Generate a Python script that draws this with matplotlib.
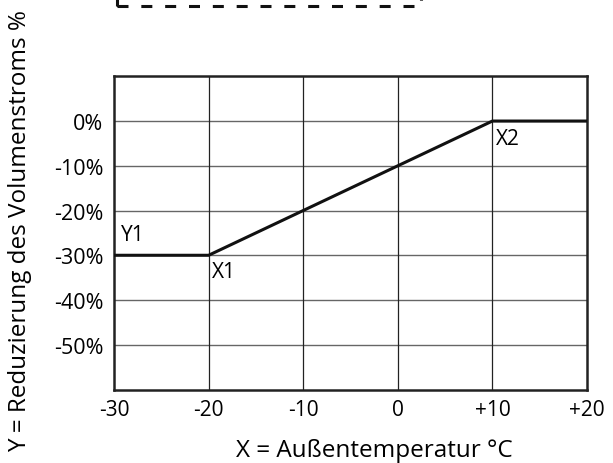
import matplotlib.pyplot as plt
from matplotlib.patches import Rectangle

plt.rcParams['font.family'] = ['Open Sans', 'DejaVu Sans']

x_pts = [-30, -20, 10, 20]
y_pts = [-30, -30, 0, 0]
x_ticks = [-30, -20, -10, 0, 10, 20]
x_labels = ['-30', '-20', '-10', '0', '+10', '+20']
y_ticks = [0, -10, -20, -30, -40, -50]
y_labels = ['0%', '-10%', '-20%', '-30%', '-40%', '-50%']

fig = plt.figure(figsize=(6.13, 4.64), dpi=100)
ax = fig.add_axes([0.186, 0.1584, 0.7716, 0.675])

ax.set_xlim(-30, 20)
ax.set_ylim(-60, 10)
ax.set_xticks(x_ticks)
ax.set_xticklabels(x_labels, fontsize=15)
ax.set_yticks(y_ticks)
ax.set_yticklabels(y_labels, fontsize=15.5)
ax.tick_params(axis='y', length=0, pad=7.5)
ax.tick_params(axis='x', length=0, pad=7)

for yv in [-50, -40, -30, -20, -10, 0]:
    ax.axhline(yv, color='#666666', lw=1.0, zorder=1)
for xv in [-20, -10, 0, 10]:
    ax.axvline(xv, color='#222222', lw=0.9, zorder=1)
for s in ax.spines.values():
    s.set_linewidth(1.8)
    s.set_color('#222222')

ax.plot(x_pts, y_pts, color='#111111', lw=2.2, zorder=3)

ax.text(-29.25, -26.5, 'Y1', fontsize=15, va='baseline', ha='left')
ax.text(-19.7, -34.9, 'X1', fontsize=15, va='baseline', ha='left')
ax.text(10.35, -5.1, 'X2', fontsize=15, va='baseline', ha='left')

fig.text(374 / 613, 1 - 457 / 464, 'X = Außentemperatur °C',
         fontsize=17.5, va='baseline', ha='center')
fig.text(0.032, 0.502, 'Y = Reduzierung des Volumenstroms %', rotation=90,
         fontsize=17.5, va='center', ha='center')

fig.patches.append(Rectangle((116.7 / 613, 1 - 7 / 464), 304.3 / 613, 0.1,
                             transform=fig.transFigure, fill=False,
                             ls=(0, (3.6, 4.2)), lw=2.2, color='#111111'))

fig.savefig('out.png', dpi=100)
